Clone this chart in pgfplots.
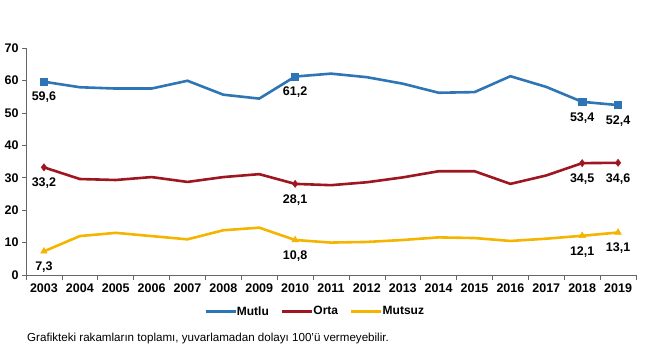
\documentclass[border=0pt]{standalone}
\usepackage{pgfplots}
\pgfplotsset{compat=1.18}
\usepackage{fontspec}
\setmainfont{Liberation Sans}
\definecolor{cblue}{HTML}{2E75B6}
\definecolor{cred}{HTML}{9E1620}
\definecolor{cyel}{HTML}{F5B400}
\begin{document}
\begin{tikzpicture}
\useasboundingbox (-26pt,-85pt) rectangle (624pt,275pt);
\begin{axis}[
  at={(0,0)}, anchor=south west,
  scale only axis, width=610pt, height=227pt,
  xmin=-0.5, xmax=16.5, ymin=0, ymax=70,
  axis lines*=left,
  axis line style={black!60, line width=0.6pt},
  xtick={0,...,16},
  xticklabels={2003,2004,2005,2006,2007,2008,2009,2010,2011,2012,2013,2014,2015,2016,2017,2018,2019},
  minor xtick={-0.5,0.5,...,16.5},
  major x tick style={draw=none},
  minor tick length=5pt,
  ytick={0,10,...,70},
  major tick length=4pt,
  tick align=outside,
  tick style={black!60, line width=0.6pt},
  /pgf/number format/assume math mode=true,
  tick label style={font=\fontsize{12.5}{14}\selectfont\bfseries},
  xticklabel style={yshift=-1pt},
  legend style={draw=none, at={(0.474,-0.12)}, anchor=north, legend columns=3,
    font=\fontsize{12}{14}\selectfont\bfseries,
    /tikz/every odd column/.append style={column sep=-2pt},
    /tikz/every even column/.append style={column sep=10pt}},
  legend image code/.code={\draw[#1, mark=none] (0pt,0pt) -- (30pt,0pt);},
  clip=false,
]
\addplot[cblue, line width=2.6pt, mark=square*, mark size=3.6pt, mark options={line width=0.5pt}, mark indices={1,8,16,17}] coordinates {
(0,59.6)(1,57.9)(2,57.5)(3,57.5)(4,59.9)(5,55.6)(6,54.4)(7,61.2)(8,62.1)(9,61.0)(10,59.0)(11,56.2)(12,56.4)(13,61.3)(14,58.0)(15,53.4)(16,52.4)};
\addlegendentry{Mutlu}
\addplot[cred, line width=2.6pt, mark=diamond*, mark size=3.6pt, mark options={line width=0.5pt}, mark indices={1,8,16,17}] coordinates {
(0,33.2)(1,29.6)(2,29.3)(3,30.2)(4,28.7)(5,30.2)(6,31.1)(7,28.1)(8,27.7)(9,28.6)(10,30.1)(11,32.0)(12,32.0)(13,28.1)(14,30.7)(15,34.5)(16,34.6)};
\addlegendentry{Orta}
\addplot[cyel, line width=2.6pt, mark=triangle*, mark size=3.8pt, mark options={line width=0.5pt}, mark indices={1,8,16,17}] coordinates {
(0,7.3)(1,12.0)(2,13.0)(3,12.0)(4,11.0)(5,13.8)(6,14.6)(7,10.8)(8,10.0)(9,10.2)(10,10.8)(11,11.6)(12,11.4)(13,10.5)(14,11.2)(15,12.1)(16,13.1)};
\addlegendentry{Mutsuz}
\addplot[draw=none, mark=none, forget plot, nodes near coords, point meta=explicit symbolic,
  every node near coord/.append style={anchor=north, yshift=-7pt, black, font=\fontsize{12.5}{14}\selectfont\bfseries}]
  coordinates {(0,59.6)[59,6] (7,61.2)[61,2] (15,53.4)[53,4] (16,52.4)[52,4]
  (0,33.2)[33,2] (7,28.1)[28,1] (15,34.5)[34,5] (16,34.6)[34,6]
  (0,7.3)[7,3] (7,10.8)[10,8] (15,12.1)[12,1] (16,13.1)[13,1]};
\end{axis}
\node[anchor=west, font=\fontsize{11.6}{13}\selectfont, inner sep=0pt] at (1pt,-63pt) {Grafikteki rakamların toplamı, yuvarlamadan dolayı 100'ü vermeyebilir.};
\end{tikzpicture}
\end{document}
